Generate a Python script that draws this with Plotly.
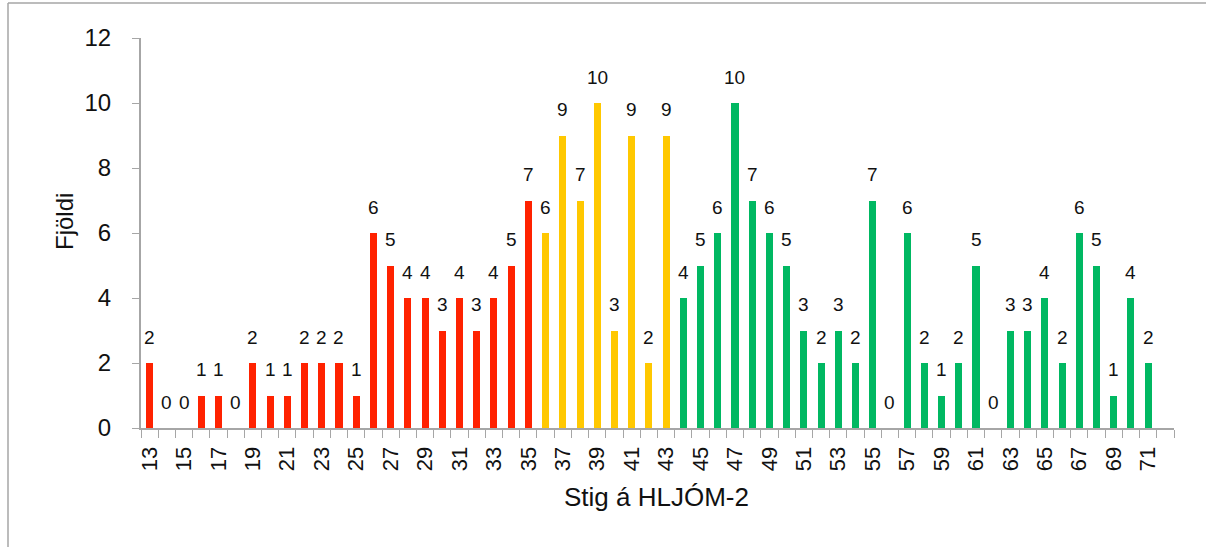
import plotly.graph_objects as go

scores = list(range(13, 72))
counts = [2, 0, 0, 1, 1, 0, 2, 1, 1, 2, 2, 2, 1, 6, 5, 4, 4, 3, 4, 3, 4, 5, 7,
          6, 9, 7, 10, 3, 9, 2, 9,
          4, 5, 6, 10, 7, 6, 5, 3, 2, 3, 2, 7, 0, 6, 2, 1, 2, 5, 0, 3, 3, 4, 2, 6, 5, 1, 4, 2]
red_max = 35
yellow_max = 43
col_red = "#FF2200"
col_yellow = "#FFC800"
col_green = "#00B862"
colors = [col_red if s <= red_max else (col_yellow if s <= yellow_max else col_green) for s in scores]
tick_labels = [str(s) for s in scores[::2]]

FONT = "Liberation Sans, Arial"
W, H = 1206, 547
L, R, T, B = 141, 32, 38, 119
pw = W - L - R
ph = H - T - B

fig = go.Figure()
fig.add_trace(go.Bar(
    x=scores, y=counts, marker=dict(color=colors, line=dict(width=0)),
    width=0.41, hoverinfo="x+y",
))

# value labels above bars
for s, c in zip(scores, counts):
    fig.add_annotation(x=s, y=c, text=str(c), showarrow=False, yshift=26,
                       xanchor="center", yanchor="middle",
                       font=dict(size=19, family=FONT, color="#111111"))

fig.update_layout(
    width=W, height=H,
    margin=dict(l=L, r=R, t=T, b=B),
    paper_bgcolor="white", plot_bgcolor="white",
    showlegend=False,
    font=dict(family=FONT, color="#111111"),
    xaxis=dict(
        range=[scores[0] - 0.5, scores[-1] + 1.5],
        tickmode="array", tickvals=scores[::2], ticktext=tick_labels,
        tickangle=-90, ticks="", showgrid=False, zeroline=False,
        showline=True, linecolor="#A6A6A6", linewidth=2,
        tickfont=dict(size=22, family=FONT, color="#111111"),
        ticklabelstandoff=8,
        automargin=False,
        minor=dict(ticks="outside", tickmode="linear", tick0=scores[0] - 0.5, dtick=1,
                   ticklen=8, tickcolor="#A6A6A6", tickwidth=1, showgrid=False),
    ),
    yaxis=dict(
        range=[0, 12], tickmode="linear", tick0=0, dtick=2,
        ticks="outside", ticklen=7, tickcolor="#A6A6A6", tickwidth=1,
        showgrid=False, zeroline=False,
        showline=True, linecolor="#A6A6A6", linewidth=2,
        tickfont=dict(size=24, family=FONT, color="#111111"),
        ticklabelstandoff=16,
        automargin=False,
    ),
    bargap=0,
)

# axis titles
fig.add_annotation(text="Stig á HLJÓM-2", xref="paper", yref="paper",
                   x=(656 - L) / pw, y=(H - B - 497) / ph, showarrow=False,
                   xanchor="center", yanchor="middle",
                   font=dict(size=26, family=FONT, color="#111111"))
fig.add_annotation(text="Fjöldi", xref="paper", yref="paper",
                   x=(64 - L) / pw, y=(H - B - 222) / ph, showarrow=False,
                   xanchor="center", yanchor="middle", textangle=-90,
                   font=dict(size=24, family=FONT, color="#111111"))

# outer chart border (top and left visible)
x0 = (8 - L) / pw
y0 = (H - B - 3) / ph
fig.add_shape(type="line", xref="paper", yref="paper", x0=x0, x1=x0, y0=y0, y1=-0.5,
              line=dict(color="#A6A6A6", width=1.5))
fig.add_shape(type="line", xref="paper", yref="paper", x0=x0, x1=1.2, y0=y0, y1=y0,
              line=dict(color="#A6A6A6", width=1.5))

fig.write_html("out.html", config={"displayModeBar": False},
               post_script="document.body.style.margin='0';")
